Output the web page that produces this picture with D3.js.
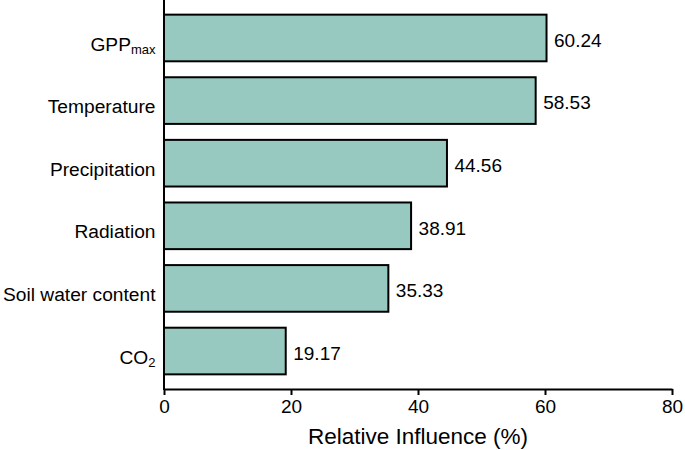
<!DOCTYPE html>
<html><head><meta charset="utf-8">
<script src="https://cdn.jsdelivr.net/npm/d3@7"></script>
<style>body{margin:0;background:#fff;} text{font-family:"Liberation Sans",Arial,Helvetica,sans-serif;}</style>
</head><body>
<svg id="c" width="685" height="450"></svg>
<script>
const categories = ["GPP", "Temperature", "Precipitation", "Radiation", "Soil water content", "CO"];
const subscripts = ["max", "", "", "", "", "2"];
const values = [60.24, 58.53, 44.56, 38.91, 35.33, 19.17];
const xTicks = [0, 20, 40, 60, 80];

(function () {
const svg = d3.select("#c");
const mLeft = 164, mRight = 672, mTop = 0, mBottom = 389;
const x = d3.scaleLinear().domain([0, 80]).range([mLeft, mRight]);
const y = d3.scaleBand().domain(categories).range([mTop, mBottom]).paddingInner(0.255).paddingOuter(0.234);

svg.selectAll("rect.bar").data(values).enter().append("rect")
  .attr("class", "bar")
  .attr("x", x(0))
  .attr("y", (d, i) => y(categories[i]))
  .attr("width", d => x(d) - x(0))
  .attr("height", y.bandwidth())
  .attr("fill", "#98c9c1")
  .attr("stroke", "#000")
  .attr("stroke-width", 2);

svg.selectAll("text.val").data(values).enter().append("text")
  .attr("class", "val")
  .attr("x", d => x(d) + 7.5)
  .attr("y", (d, i) => y(categories[i]) + y.bandwidth() / 2)
  .attr("dy", "0.46em")
  .attr("font-size", 19)
  .text(d => d.toFixed(2));

const lab = svg.selectAll("text.cat").data(categories).enter().append("text")
  .attr("class", "cat")
  .attr("x", 155.5)
  .attr("y", d => y(d) + y.bandwidth() / 2)
  .attr("dy", "0.66em")
  .attr("text-anchor", "end")
  .attr("font-size", 19.2);
lab.append("tspan").text(d => d);
lab.append("tspan").attr("font-size", 13).attr("dy", "0.27em").text((d, i) => subscripts[i]);

const xAxis = d3.axisBottom(x).tickValues(xTicks).tickSize(6).tickSizeOuter(0).tickPadding(5);
const gx = svg.append("g").attr("transform", `translate(0,${mBottom})`).call(xAxis);
gx.select(".domain").attr("stroke", "#000").attr("stroke-width", 2);
gx.selectAll(".tick line").attr("stroke", "#000").attr("stroke-width", 2);
gx.selectAll(".tick text").attr("font-size", 19).attr("fill", "#000").attr("font-family", "Liberation Sans, Arial, sans-serif");

svg.append("line").attr("x1", x(0)).attr("x2", x(0)).attr("y1", mTop).attr("y2", mBottom + 1)
  .attr("stroke", "#000").attr("stroke-width", 2);

svg.append("text").attr("x", (mLeft + mRight) / 2).attr("y", 444)
  .attr("text-anchor", "middle").attr("font-size", 22.5).text("Relative Influence (%)");
})();
</script>
</body></html>
